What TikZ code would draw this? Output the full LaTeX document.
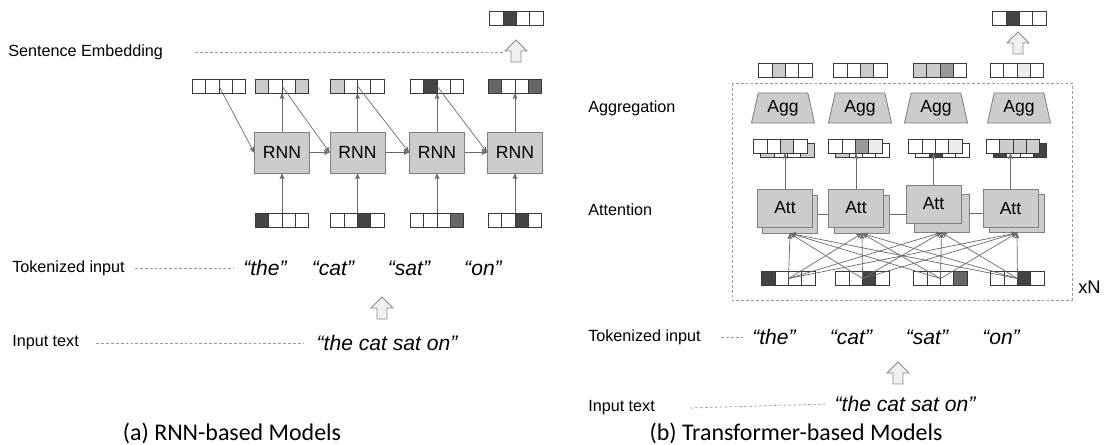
\documentclass[tikz,border=0pt]{standalone}
\usepackage{fontspec}
\setmainfont{Liberation Sans}
\newfontfamily\capfont{Carlito}
\usepackage{tikz}
\usetikzlibrary{shapes,arrows}
\usetikzlibrary{shapes.geometric}
\usetikzlibrary{calc}

\definecolor{boxgray}{RGB}{204,204,204}
\definecolor{edgegray}{RGB}{128,128,128}
\definecolor{linegray}{RGB}{105,105,105}
\definecolor{dk}{RGB}{68,68,68}
\definecolor{md}{RGB}{102,102,102}
\definecolor{mg}{RGB}{153,153,153}
\definecolor{lt}{RGB}{204,204,204}
\definecolor{vl}{RGB}{236,236,236}
\definecolor{arrfill}{RGB}{240,240,240}

% vector of four cells: name, x, y, four fills
\newcommand{\cellvec}[7]{%
  \node[vec] (#1) at (#2,#3) {};
  \node[cell, fill=#4] (#1-1) at ($(#1)+(-19.95,0)$) {};
  \node[cell, fill=#5] (#1-2) at ($(#1)+(-6.65,0)$) {};
  \node[cell, fill=#6] (#1-3) at ($(#1)+(6.65,0)$) {};
  \node[cell, fill=#7] (#1-4) at ($(#1)+(19.95,0)$) {};
}

\begin{document}
\begin{tikzpicture}
[x=0.025cm, y=-0.025cm,
lbl/.style ={font=\fontsize{11.5}{13}\selectfont, anchor=west, inner sep=0},
word/.style ={font=\fontsize{15}{17}\selectfont\itshape, inner sep=0},
capt/.style ={font=\capfont\fontsize{17}{19}\selectfont, inner sep=0},
vec/.style ={rectangle, inner sep=0, minimum width=1.33cm, minimum height=0.35cm},
cell/.style ={rectangle, draw=black!78, line width=0.6pt, inner sep=0,
minimum width=0.3325cm, minimum height=0.35cm},
rnn/.style ={rectangle, draw=edgegray, fill=boxgray, line width=0.6pt,
minimum width=1.375cm, minimum height=1.025cm, font=\fontsize{12.5}{14}\selectfont},
att/.style ={rectangle, draw=edgegray, fill=boxgray, line width=0.6pt,
minimum width=1.375cm, minimum height=0.95cm, font=\fontsize{12.5}{14}\selectfont},
agg/.style ={trapezium, trapezium angle=75, trapezium stretches=true,
draw=edgegray, fill=boxgray, line width=0.6pt, inner sep=0,
minimum width=1.575cm, minimum height=0.75cm, font=\fontsize{12.5}{14}\selectfont},
arr/.style ={-stealth', draw=linegray, line width=0.5pt},
link/.style ={draw=linegray, line width=0.5pt},
dashline/.style ={draw=black!40, line width=0.5pt, dash pattern=on 2pt off 1.5pt},
hollowup/.pic ={\draw[draw=black!45, fill=arrfill, line width=0.6pt]
(-5,11) -- (-5,0) -- (-11,0) -- (0,-11) -- (11,0) -- (5,0) -- (5,11) -- cycle;}]

\useasboundingbox (0,0) rectangle (1106,445);

% (a) RNN-based
\cellvec{sent}{516.5}{18}{white}{dk}{white}{white}
\pic at (516,51) {hollowup};
\coordinate (sentend) at (505,52);
\node[lbl] (sentlbl) at (8,52) {Sentence Embedding};
\draw[dashline] ($(sentlbl.east)+(32,0)$) -- (sentend);

\cellvec{h0}{219}{86}{white}{white}{white}{white}
\cellvec{h1}{282}{86}{lt}{white}{white}{lt}
\cellvec{h2}{357.5}{86}{lt}{white}{white}{white}
\cellvec{h3}{437}{86}{white}{dk}{white}{white}
\cellvec{h4}{515}{86}{md}{white}{white}{md}

\node[rnn] (rnn1) at (282,152.5) {RNN};
\node[rnn] (rnn2) at (357.5,152.5) {RNN};
\node[rnn] (rnn3) at (437,152.5) {RNN};
\node[rnn] (rnn4) at (515,152.5) {RNN};

\cellvec{x1}{282}{220}{dk}{white}{white}{white}
\cellvec{x2}{357.5}{220}{white}{white}{dk}{white}
\cellvec{x3}{437}{220}{white}{white}{white}{md}
\cellvec{x4}{515}{220}{white}{white}{dk}{white}

\foreach \i in {1,...,4} {
  \draw[arr] (x\i) -- (rnn\i);
  \draw[arr] (rnn\i) -- (h\i);
}
\draw[arr] (h0.center) -- (rnn1.west);
\draw[arr] (h1.center) -- (rnn2.west);
\draw[arr] (h2.center) -- (rnn3.west);
\draw[arr] (h3.center) -- (rnn4.west);
\draw[arr] (rnn1) -- (rnn2);
\draw[arr] (rnn2) -- (rnn3);
\draw[arr] (rnn3) -- (rnn4);

\node[lbl] (toklblA) at (12,268) {Tokenized input};
\node[word] (theA) at (265,268) {“the”};
\node[word] (catA) at (333,268) {“cat”};
\node[word] (satA) at (409,268) {“sat”};
\node[word] (onA) at (483,268) {“on”};
\draw[dashline] ($(toklblA.east)+(10,0)$) -- ($(theA.west)+(-9,0)$);

\pic at (382,308) {hollowup};

\node[lbl] (inlblA) at (12,343) {Input text};
\node[word] (textA) at (387,343) {“the cat sat on”};
\draw[dashline] ($(inlblA.east)+(17,0)$) -- ($(textA.west)+(-13,0)$);

\node[capt] (captA) at (232,433) {(a) RNN-based Models};

% (b) Transformer-based
\cellvec{out}{1019.5}{18}{white}{dk}{white}{white}
\pic at (1018,43) {hollowup};

\cellvec{t1}{785.5}{70}{white}{lt}{white}{white}
\cellvec{t2}{860.5}{70}{white}{white}{lt}{white}
\cellvec{t3}{940}{70}{lt}{lt}{mg}{white}
\cellvec{t4}{1017}{70}{white}{white}{vl}{white}

\node[agg] (agg1) at (783,108) {Agg};
\node[agg] (agg2) at (860,108) {Agg};
\node[agg] (agg3) at (936,108) {Agg};
\node[agg] (agg4) at (1019,108) {Agg};

\cellvec{s1b}{787.5}{150.5}{lt}{white}{white}{lt}
\cellvec{s1}{780.5}{146}{white}{white}{lt}{white}
\cellvec{s2b}{862.5}{150.5}{lt}{white}{white}{white}
\cellvec{s2}{855.5}{146}{white}{white}{mg}{vl}
\cellvec{s3b}{942.5}{150.5}{white}{dk}{white}{white}
\cellvec{s3}{935.5}{146}{white}{white}{white}{vl}
\cellvec{s4b}{1020}{150.5}{dk}{white}{white}{dk}
\cellvec{s4}{1013}{146}{white}{lt}{lt}{lt}

\node[att] (att1b) at (790,214) {};
\node[att] (att1) at (785,208) {Att};
\node[att] (att2b) at (862,214) {};
\node[att] (att2) at (856,208) {Att};
\node[att] (att3b) at (941.5,213) {};
\node[att] (att3) at (933.5,204) {Att};
\node[att] (att4b) at (1017,213.5) {};
\node[att] (att4) at (1010.5,208.5) {Att};

\draw[link] (att1b.east) -- (att2.west |- att1b.east);
\draw[link] (att2b.east) -- (att3.west |- att2b.east);
\draw[link] (att3b.east) -- (att4.west |- att3b.east);

\foreach \i in {1,...,4}
  \draw[arr] (att\i.north) -- (att\i.north |- s\i.south);

\cellvec{b1}{788.5}{278.5}{dk}{white}{white}{white}
\cellvec{b2}{862.5}{278.5}{white}{white}{dk}{white}
\cellvec{b3}{940.5}{278.5}{white}{white}{white}{md}
\cellvec{b4}{1017.5}{278.5}{white}{white}{dk}{white}

\foreach \i in {1,...,4}
  \foreach \j in {1,...,4}
    \draw[arr] (b\i.center) -- (att\j b.south);

\draw[dashline] (732,83) rectangle (1072,300);
\node[lbl, font=\fontsize{13}{15}\selectfont] (xn) at (1078,287) {xN};
\node[lbl] (agglbl) at (588,108) {Aggregation};
\node[lbl] (attlbl) at (588,210) {Attention};

\node[lbl] (toklblB) at (588,337) {Tokenized input};
\node[word] (theB) at (774,337) {“the”};
\node[word] (catB) at (851,337) {“cat”};
\node[word] (satB) at (927,337) {“sat”};
\node[word] (onB) at (1001,337) {“on”};
\draw[dashline] ($(toklblB.east)+(20,0)$) -- ($(theB.west)+(-8,0)$);

\pic at (898,373) {hollowup};

\node[lbl] (inlblB) at (588,408) {Input text};
\node[word] (textB) at (905,404) {“the cat sat on”};
\draw[dashline] ($(inlblB.east)+(35,0)$) -- ($(textB.west)+(-8,0)$);

\node[capt] (captB) at (796,433) {(b) Transformer-based Models};
\end{tikzpicture}
\end{document}
